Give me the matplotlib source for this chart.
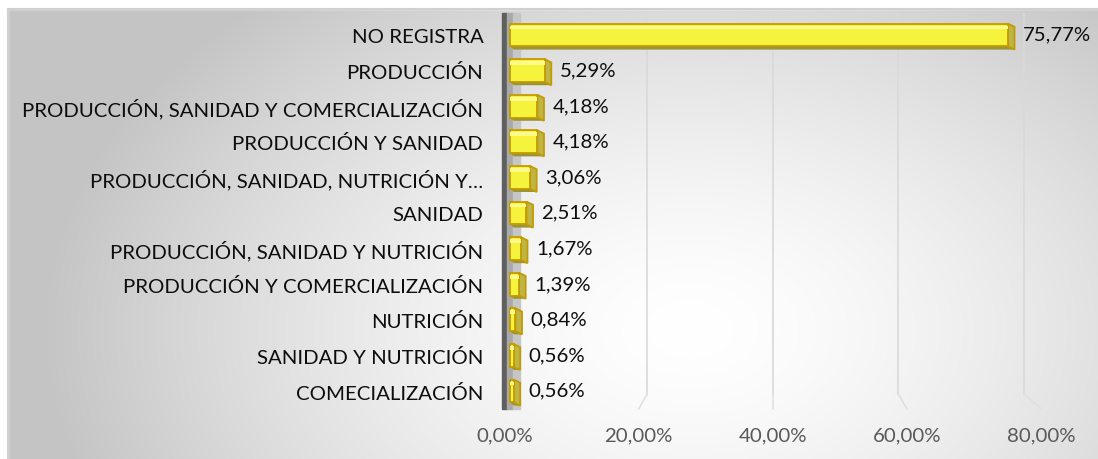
import numpy as np
import matplotlib
matplotlib.use("Agg")
import matplotlib.pyplot as plt
from matplotlib.patches import Polygon, Rectangle

# ---------------- data ----------------
categories = [
    "NO REGISTRA",
    "PRODUCCIÓN",
    "PRODUCCIÓN, SANIDAD Y COMERCIALIZACIÓN",
    "PRODUCCIÓN Y SANIDAD",
    "PRODUCCIÓN, SANIDAD, NUTRICIÓN Y…",
    "SANIDAD",
    "PRODUCCIÓN, SANIDAD Y NUTRICIÓN",
    "PRODUCCIÓN Y COMERCIALIZACIÓN",
    "NUTRICIÓN",
    "SANIDAD Y NUTRICIÓN",
    "COMECIALIZACIÓN",
]
values = [75.77, 5.29, 4.18, 4.18, 3.06, 2.51, 1.67, 1.39, 0.84, 0.56, 0.56]
xticks = [0, 20, 40, 60, 80]
xtick_labels = ["0,00%", "20,00%", "40,00%", "60,00%", "80,00%"]

# ---------------- style ----------------
FONT = "Lato"
FS = 14.7
W, H = 1098, 460
plt.rcParams["font.family"] = [FONT, "DejaVu Sans"]

fig = plt.figure(figsize=(W / 100, H / 100), dpi=100)
fig.patch.set_facecolor("white")

# background gradient (chart area)
bg = fig.add_axes([0, 0, 1, 1], zorder=-10)
bg.set_xlim(0, W)
bg.set_ylim(H, 0)
bg.axis("off")
yy, xx = np.mgrid[0:H, 0:W]
r = np.sqrt(((xx - 690) / 650.0) ** 2 + ((yy - 330) / 440.0) ** 2)
g = 255 - (255 - 196) * np.clip(r, 0, 1) ** 1.5
img = np.dstack([g, g, g]) / 255.0
bg.imshow(img, extent=(0, W, H, 0), aspect="auto", zorder=0)
bg.add_patch(Rectangle((0, 0), W, 9.5, color="white", zorder=1))
bg.add_patch(Rectangle((0, 0), 7.5, H, color="white", zorder=1))
bg.plot([7.5, W], [9.5, 9.5], color="#d0d0d0", lw=1.5, zorder=2)
bg.plot([7.5, 7.5], [9.5, H], color="#d0d0d0", lw=1.5, zorder=2)

# main axes
px_left, px_right = 501.4, 1041.0
px_top, px_bot = 18.2, 409.8
ax = fig.add_axes([px_left / W, 1 - px_bot / H, (px_right - px_left) / W, (px_bot - px_top) / H])
ax.set_facecolor("none")
ax.set_xlim(-1.3, 80)
ax.set_ylim(-0.5, len(categories) - 0.5)
for s in ax.spines.values():
    s.set_visible(False)

n = len(categories)
ypos = [n - 1 - i for i in range(n)]

# perspective helpers
def front(t):
    return 40 + (t - 40) * 1.02

def back(t):
    return 40 + (t - 40) * 0.955

# gridlines
for t in xticks[1:]:
    ax.plot([back(t), back(t)], [n - 0.5 + 0.1, -0.08], color="#d9d9d9", lw=1.2,
            zorder=1, clip_on=False)
    ax.plot([back(t), front(t)], [-0.08, -0.5], color="#e0e0e0", lw=1.2,
            zorder=1, clip_on=False)

# wall
ax.axvspan(-1.2, -0.45, ymin=0.0, ymax=1.01, color="#5f5f5f", zorder=2, clip_on=False)
ax.axvspan(-0.45, 0.5, ymin=0.0, ymax=1.01, color="#a9a9a9", zorder=2, clip_on=False)
ax.axvspan(0.5, 1.6, ymin=0.0, ymax=1.01, color="#c6c6c6", zorder=2, clip_on=False)

# bars with pseudo-3D
h = 0.64
d, e = 1.0, 0.09
for y, v in zip(ypos, values):
    # bottom strip
    ax.add_patch(Polygon([(0, y - h / 2), (v, y - h / 2), (v + d, y - h / 2 - e), (d * 0.6, y - h / 2 - e)],
                         closed=True, facecolor="#9a9436", edgecolor="none", zorder=3))
    # side face
    ax.add_patch(Polygon([(v, y + h / 2), (v + d, y + h / 2 - e), (v + d, y - h / 2 - e), (v, y - h / 2)],
                         closed=True, facecolor="#bdb646", edgecolor="#c49a00", lw=1.3, zorder=4))
    # front face
    ax.barh(y, v, height=h, left=0, color="#f6f33c", edgecolor="#c49a00", linewidth=1.3, zorder=5)
    # highlight
    ax.barh(y + h * 0.33, v, height=h * 0.16, left=0, color="#fbfa8a", edgecolor="none", zorder=6)
    ax.text(v + 2.3, y + 0.02, f"{v:.2f}%".replace(".", ","), ha="left", va="center",
            fontsize=FS, color="#0d0d0d", zorder=7, clip_on=False)

ax.set_yticks(ypos)
ax.set_yticklabels(categories, fontsize=FS, color="#0d0d0d")
ax.tick_params(axis="y", length=0, pad=13)
ax.set_xticks([front(t) for t in xticks])
ax.set_xticklabels(xtick_labels, fontsize=FS, color="#595959")
ax.tick_params(axis="x", length=0, pad=13)

fig.savefig("out.png", dpi=100)
